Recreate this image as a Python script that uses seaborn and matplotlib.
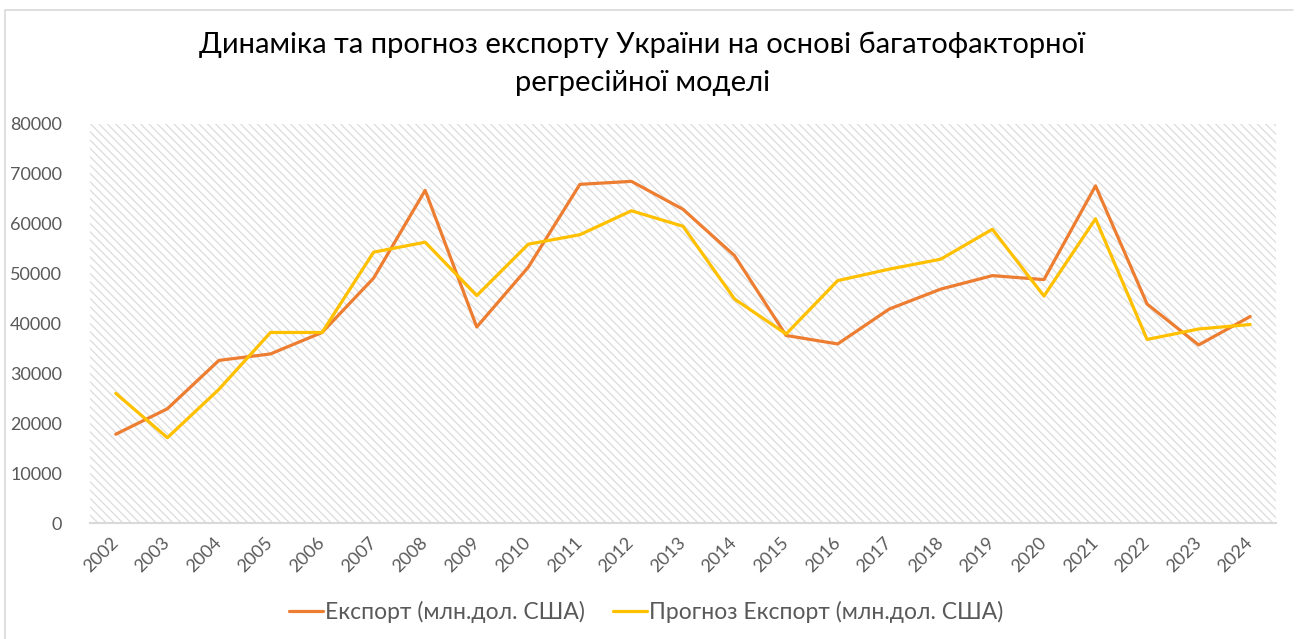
import numpy as np
import pandas as pd
import matplotlib
matplotlib.use('Agg')
import matplotlib.pyplot as plt
from matplotlib.patches import Rectangle
from matplotlib.lines import Line2D
import seaborn as sns

# data
years = list(range(2002, 2025))
export = [17800, 22900, 32600, 33900, 38200, 49100, 66700, 39300, 51300, 67900,
          68500, 62900, 53600, 37600, 35900, 42900, 46900, 49600, 48800, 67600,
          43900, 35700, 41400]
forecast = [26000, 17100, 26800, 38200, 38200, 54300, 56300, 45600, 55900, 57800,
            62600, 59500, 44900, 37900, 48600, 50900, 52900, 58900, 45500, 61000,
            36800, 38900, 39800]
labels = ["Експорт (млн.дол. США)", "Прогноз Експорт (млн.дол. США)"]
colors = ["#ED7D31", "#FFC000"]
title = "Динаміка та прогноз експорту України на основі багатофакторної\nрегресійної моделі"

df = pd.DataFrame({"year": years * 2,
                   "value": export + forecast,
                   "series": [labels[0]] * len(years) + [labels[1]] * len(years)})

sns.set_style("white")
plt.rcParams['font.family'] = ['Lato', 'DejaVu Sans']
plt.rcParams['hatch.linewidth'] = 0.9

fig = plt.figure(figsize=(13, 6.39), dpi=100)
ax = fig.add_axes([90 / 1300, 116 / 639, 1186 / 1300, 399 / 639])

# hatched plot area
ax.add_patch(Rectangle((0, 0), 1, 1, transform=ax.transAxes, facecolor='white',
                       edgecolor='#dcdcdc', hatch='\\\\\\\\', lw=0, zorder=0))

sns.lineplot(data=df, x="year", y="value", hue="series", palette=colors,
             linewidth=2.3, ax=ax, legend=False, zorder=3)

ax.set_xlim(2001.5, 2024.5)
ax.set_ylim(0, 80000)
ax.set_yticks(range(0, 80001, 10000))
ax.set_xticks(years)
ax.set_xticklabels([str(y) for y in years], rotation=45, ha='right', va='center',
                   rotation_mode='anchor')
ax.tick_params(axis='both', length=0, labelsize=13, colors='#595959')
ax.tick_params(axis='y', pad=20)
ax.tick_params(axis='x', pad=12)
ax.set_xlabel("")
ax.set_ylabel("")
for side in ['top', 'right', 'left']:
    ax.spines[side].set_visible(False)
ax.spines['bottom'].set_color('#d9d9d9')
ax.spines['bottom'].set_linewidth(1.5)
ax.grid(False)

fig.text(0.494, 1 - 64 / 639, title, ha='center', va='center', fontsize=21,
         color='black', linespacing=1.55)

handles = [Line2D([0], [0], color=c, lw=2.3) for c in colors]
fig.legend(handles, labels, loc='center', bbox_to_anchor=(0.497, 1 - 612 / 639),
           ncol=2, frameon=False, fontsize=16.5, handlelength=1.5, handletextpad=0.1,
           columnspacing=1.2, labelcolor='#595959')

# chart border (top and left visible)
fig.add_artist(Line2D([5 / 1300, 5 / 1300, 1293 / 1300], [0, 1 - 10 / 639, 1 - 10 / 639],
                      transform=fig.transFigure, color='#d9d9d9', lw=1.2))

fig.savefig("out.png", dpi=100)
